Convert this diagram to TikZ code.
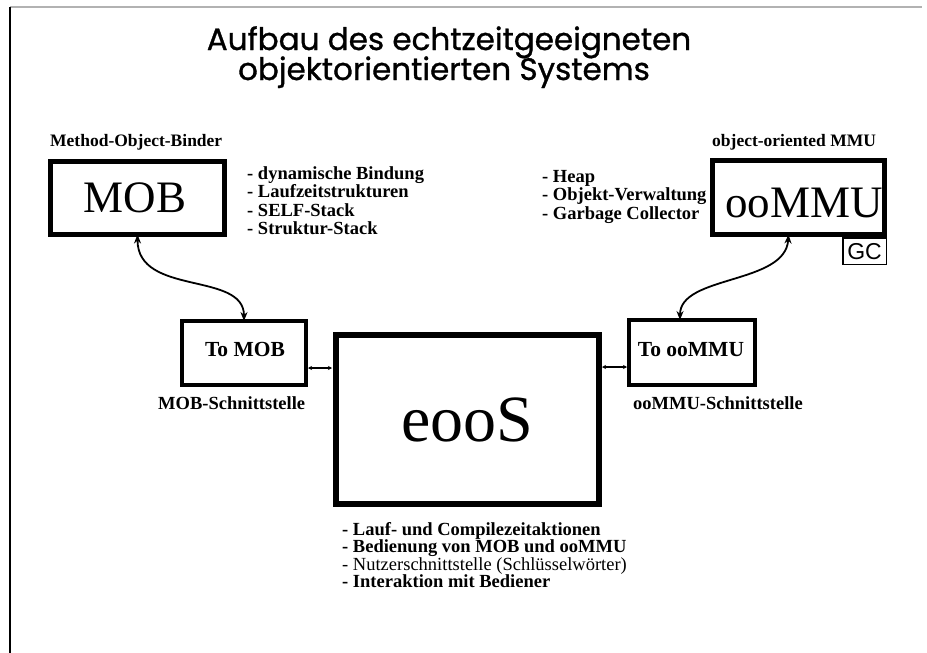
\documentclass[tikz,border=0pt]{standalone}
\usepackage{fontspec}
\setmainfont{Liberation Serif}
\newfontfamily\headfont[FakeBold=1]{Poppins}
\newfontfamily\gcfont{Liberation Sans}
\usetikzlibrary{arrows.meta}

\tikzset{
  unitbox/.style={draw, inner sep=0pt, outer sep=0pt, rectangle},
  bigbox/.style={unitbox, line width=5pt},
  ifbox/.style={unitbox, line width=4pt},
  listline/.style={anchor=base west, inner sep=0pt, font=\fontsize{18.5}{18.5}\selectfont\bfseries},
  caption/.style={anchor=base west, inner sep=0pt, font=\fontsize{17.5}{17.5}\selectfont\bfseries},
  link/.style={line width=1.8pt, {Stealth[length=9pt,width=7pt]}-{Stealth[length=9pt,width=7pt]}},
  joint/.style={line width=1.4pt, {Stealth[length=4pt,width=4pt]}-{Stealth[length=4pt,width=4pt]}},
}

\begin{document}
\begin{tikzpicture}[x=1pt, y=-1pt]
  \useasboundingbox (0,0) rectangle (927,653);

  % page frame: grey rule on top, black rule on the left
  \coordinate (fTL) at (10,7);
  \coordinate (fTR) at (922,7);
  \coordinate (fBL) at (10,653);
  \draw[gray!60, line width=1.5pt] (fTL) -- (fTR);
  \draw[black, line width=2pt] (fTL) -- (fBL);

  % title
  \node[anchor=base, inner sep=0pt, font=\headfont\fontsize{31}{31}\selectfont] (title1) at (449,50) {Aufbau des echtzeitgeeigneten};
  \node[anchor=base, inner sep=0pt, font=\headfont\fontsize{31}{31}\selectfont] (title2) at (444,80) {objektorientierten Systems};

  % main blocks
  \node[bigbox, minimum width=174pt, minimum height=73pt] (mob) at (137.5,198) {};
  \node[font=\fontsize{45}{45}\selectfont, inner sep=0pt, anchor=base] (mobtxt) at (135,212) {MOB};

  \node[bigbox, minimum width=172pt, minimum height=74pt] (oommu) at (798.5,197.5) {};
  \node[font=\fontsize{45}{45}\selectfont, inner sep=0pt, anchor=base] (oommutxt) at (804,217) {ooMMU};

  \node[unitbox, line width=1.5pt, minimum width=43.5pt, minimum height=26.5pt] (gc) at (864.5,251) {};
  \node[font=\gcfont\fontsize{23}{23}\selectfont, inner sep=0pt, anchor=base] (gctxt) at (864.5,259.5) {GC};

  \node[ifbox, minimum width=124pt, minimum height=64pt] (tomob) at (244,353) {};
  \node[font=\fontsize{21.5}{21.5}\selectfont\bfseries, inner sep=0pt, anchor=base] (tomobtxt) at (245,356) {To MOB};

  \node[ifbox, minimum width=126pt, minimum height=65pt] (tooommu) at (692,352.5) {};
  \node[font=\fontsize{21.5}{21.5}\selectfont\bfseries, inner sep=0pt, anchor=base] (tooommutxt) at (691,356) {To ooMMU};

  \node[unitbox, line width=6pt, minimum width=263pt, minimum height=169pt] (eoos) at (467.5,419.5) {};
  \node[font=\fontsize{66}{66}\selectfont, inner sep=0pt, anchor=base] (eoostxt) at (467,441) {eooS};

  % captions of the blocks
  \node[caption] (mobcap) at (50,146) {Method-Object-Binder};
  \node[caption] (oommucap) at (712,146) {object-oriented MMU};
  \node[listline] (mobif) at (158,409) {MOB-Schnittstelle};
  \node[listline] (oommuif) at (633,409) {ooMMU-Schnittstelle};

  % feature lists
  \node[listline] (m1) at (247,179) {- dynamische Bindung};
  \node[listline] (m2) at (247,197.5) {- Laufzeitstrukturen};
  \node[listline] (m3) at (247,216) {- SELF-Stack};
  \node[listline] (m4) at (247,234.5) {- Struktur-Stack};

  \node[listline] (o1) at (542,182) {- Heap};
  \node[listline] (o2) at (542,200.5) {- Objekt-Verwaltung};
  \node[listline] (o3) at (542,219) {- Garbage Collector};

  \node[listline] (e1) at (342,535) {- Lauf- und Compilezeitaktionen};
  \node[listline] (e2) at (342,552.5) {- Bedienung von MOB und ooMMU};
  \node[listline, font=\fontsize{18.5}{18.5}\selectfont] (e3) at (342,570) {- Nutzerschnittstelle (Schlüsselwörter)};
  \node[listline] (e4) at (342,587.5) {- Interaktion mit Bediener};

  % connections
  \draw[link] (mob.south) .. controls +(0,62) and +(0,-50) .. (tomob.north);
  \draw[link] ([xshift=-10pt]oommu.south) .. controls +(-3,50) and +(0,-45) .. ([xshift=-12pt]tooommu.north);
  \draw[joint, shorten <=2pt, shorten >=4pt] ([yshift=-15pt]tomob.east) -- ([yshift=-15pt]tomob.east -| eoos.west);
  \draw[joint, shorten <=3pt, shorten >=2pt] ([yshift=-14.5pt]eoos.east |- tooommu.east) -- ([yshift=-14.5pt]tooommu.west);
\end{tikzpicture}
\end{document}
